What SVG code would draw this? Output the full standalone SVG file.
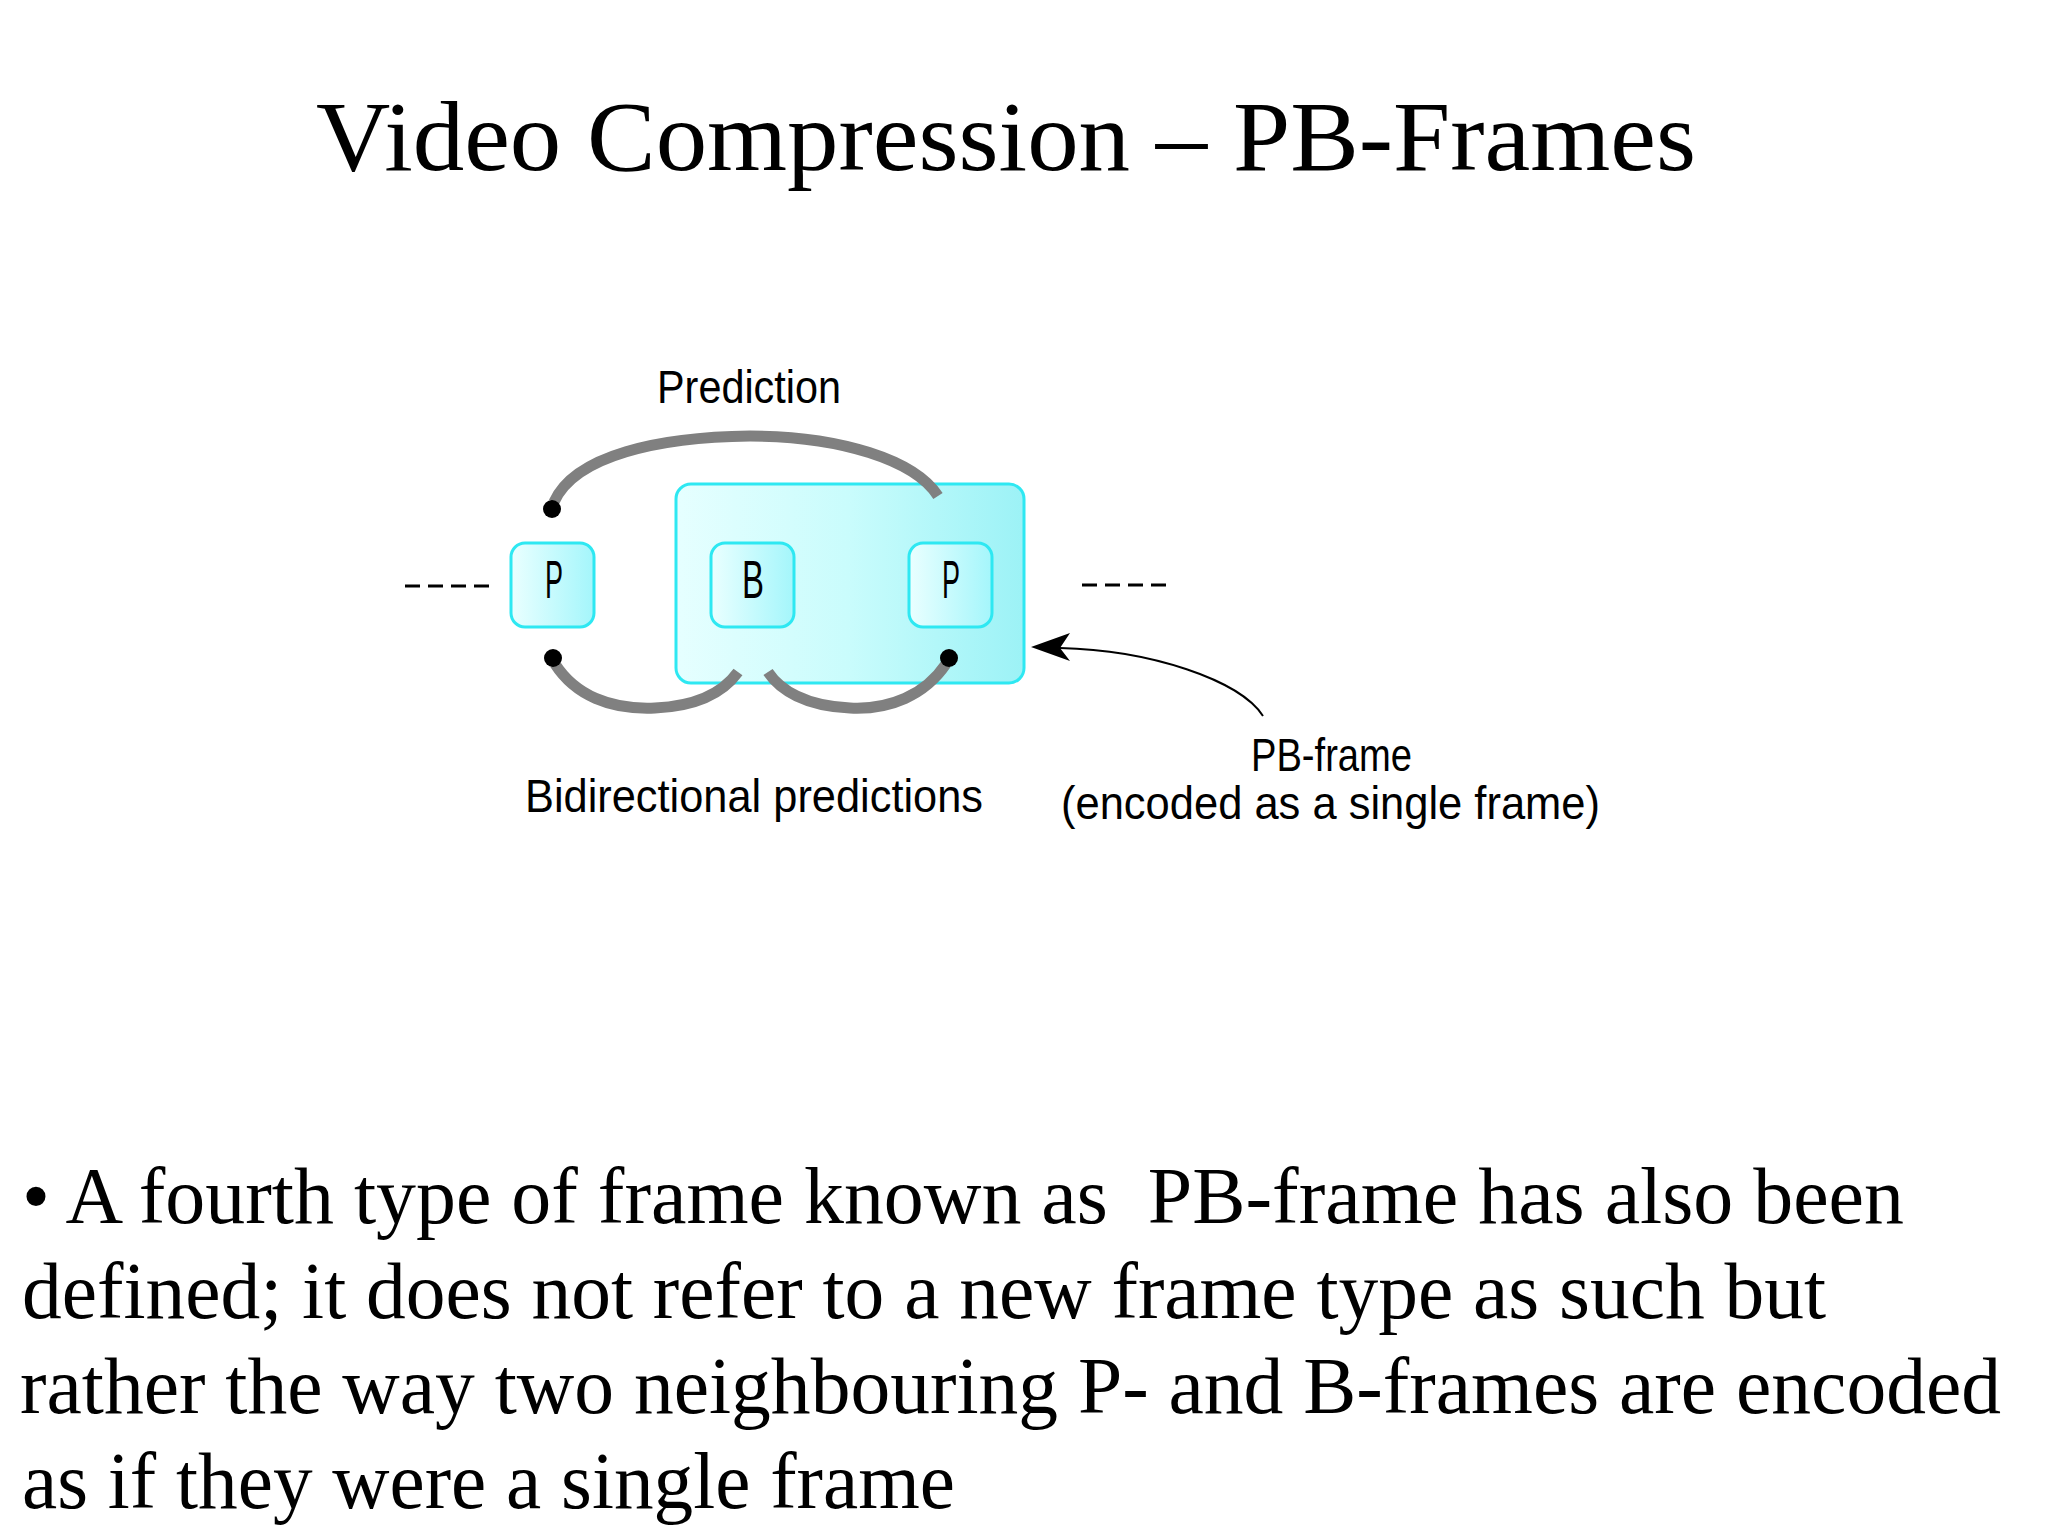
<svg xmlns="http://www.w3.org/2000/svg" width="2048" height="1536" viewBox="0 0 2048 1536">
<style>
.title{font-family:"Liberation Serif","Times New Roman",serif;font-size:100px;fill:#000}
.body{font-family:"Liberation Serif","Times New Roman",serif;font-size:80px;fill:#000}
.lbl{font-family:"Liberation Sans",Arial,sans-serif;font-size:46px;fill:#000}
.fr{font-family:"Liberation Sans",Arial,sans-serif;font-size:54px;fill:#000}
.box{stroke:#2ee8f2;stroke-width:3}
.arc{fill:none;stroke:#808080;stroke-width:11;stroke-linecap:butt}
.dash{stroke:#000;stroke-width:3;stroke-dasharray:15 8}
</style>
<defs>
<linearGradient id="gSmall" x1="0" y1="0" x2="1" y2="0">
<stop offset="0" stop-color="#eaffff"/>
<stop offset="1" stop-color="#a4f6fb"/>
</linearGradient>
<linearGradient id="gBig" x1="0" y1="0" x2="1" y2="0">
<stop offset="0" stop-color="#e6ffff"/>
<stop offset="0.5" stop-color="#c9fcfc"/>
<stop offset="1" stop-color="#9cf2f6"/>
</linearGradient>
</defs>
<rect width="2048" height="1536" fill="#fff"/>
<text class="title" x="316" y="170" textLength="1380" lengthAdjust="spacingAndGlyphs">Video Compression – PB-Frames</text>

<g id="node-PB-frame">
<rect class="box" x="676" y="484" width="348" height="199" rx="15" fill="url(#gBig)"/>
</g>
<g id="node-P1">
<rect class="box" x="511" y="543" width="83" height="84" rx="14" fill="url(#gSmall)"/>
<text class="fr" x="545" y="598" textLength="18" lengthAdjust="spacingAndGlyphs">P</text>
</g>
<g id="node-B">
<rect class="box" x="711" y="543" width="83" height="84" rx="14" fill="url(#gSmall)"/>
<text class="fr" x="742" y="598" textLength="22" lengthAdjust="spacingAndGlyphs">B</text>
</g>
<g id="node-P2">
<rect class="box" x="909" y="543" width="83" height="84" rx="14" fill="url(#gSmall)"/>
<text class="fr" x="942" y="598" textLength="18" lengthAdjust="spacingAndGlyphs">P</text>
</g>

<g id="connectors">
<line class="dash" x1="405" y1="586" x2="490" y2="586"/>
<line class="dash" x1="1082" y1="585" x2="1167" y2="585"/>
<path class="arc" d="M554,502 C575,455 660,437 750,436 C840,436 915,460 938,496"/>
<path class="arc" d="M555,664 C575,695 610,710 655,708 C700,706 725,690 738,672"/>
<path class="arc" d="M946,664 C925,695 890,710 850,708 C805,706 780,690 768,672"/>
<circle cx="552" cy="509" r="9" fill="#000"/>
<circle cx="553" cy="658" r="9" fill="#000"/>
<circle cx="949" cy="658" r="9" fill="#000"/>
<path d="M1060,648 C1150,650 1240,680 1263,716" fill="none" stroke="#000" stroke-width="2"/>
<polygon points="1031,647 1070,633 1060,648 1070,661" fill="#000"/>
</g>

<g id="labels">
<text class="lbl" x="657" y="403" textLength="184" lengthAdjust="spacingAndGlyphs">Prediction</text>
<text class="lbl" x="525" y="812" textLength="458" lengthAdjust="spacingAndGlyphs">Bidirectional predictions</text>
<text class="lbl" x="1251" y="771" textLength="161" lengthAdjust="spacingAndGlyphs">PB-frame</text>
<text class="lbl" x="1061" y="819" textLength="539" lengthAdjust="spacingAndGlyphs">(encoded as a single frame)</text>
</g>

<text class="body" x="22" y="1223" xml:space="preserve" textLength="1882" lengthAdjust="spacingAndGlyphs">• A fourth type of frame known as  PB-frame has also been</text>
<text class="body" x="22" y="1318" textLength="1804" lengthAdjust="spacingAndGlyphs">defined; it does not refer to a new frame type as such but</text>
<text class="body" x="20" y="1413" textLength="1981" lengthAdjust="spacingAndGlyphs">rather the way two neighbouring P- and B-frames are encoded</text>
<text class="body" x="22" y="1508" textLength="933" lengthAdjust="spacingAndGlyphs">as if they were a single frame</text>
</svg>
